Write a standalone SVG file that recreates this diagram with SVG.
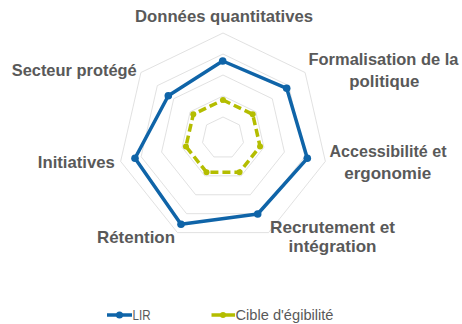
<svg xmlns="http://www.w3.org/2000/svg" width="462" height="324" viewBox="0 0 462 324">
<style>
.grid{fill:none;stroke:#d9d9d9;stroke-width:0.8}
.lbl{font-family:"Liberation Sans",Arial,sans-serif;font-weight:bold;font-size:16.3px;fill:#595959;text-anchor:middle}
.leg{font-family:"Liberation Sans",Arial,sans-serif;font-size:14px;fill:#595959}
.lir{fill:none;stroke:#0F64A8;stroke-width:3.5;stroke-linejoin:round}
.cib{fill:none;stroke:#B4BD00;stroke-width:3.5;stroke-dasharray:8,4}
.mb{fill:#0F64A8}
.mg{fill:#B4BD00}
</style>
<rect width="462" height="324" fill="#ffffff"/>
<g id="grid">
<polygon class="grid" points="223,33 305.09,72.53 325.37,161.36 268.56,232.6 177.44,232.6 120.63,161.36 140.91,72.53"/>
<polygon class="grid" points="223,54 288.67,85.63 304.89,156.69 259.45,213.68 186.55,213.68 141.11,156.69 157.33,85.63"/>
<polygon class="grid" points="223,75 272.26,98.72 284.42,152.02 250.33,194.76 195.67,194.76 161.58,152.02 173.74,98.72"/>
<polygon class="grid" points="223,96 255.84,111.81 263.95,147.35 241.22,175.84 204.78,175.84 182.05,147.35 190.16,111.81"/>
<polygon class="grid" points="223,117 239.42,124.91 243.47,142.67 232.11,156.92 213.89,156.92 202.53,142.67 206.58,124.91"/>
</g>
<g id="series-cible">
<polygon class="cib" points="223,100 252.71,114.31 260.05,146.46 239.49,172.24 206.51,172.24 185.95,146.46 193.29,114.31"/>
<circle class="mg" cx="223" cy="100" r="3"/>
<circle class="mg" cx="252.71" cy="114.31" r="3"/>
<circle class="mg" cx="260.05" cy="146.46" r="3"/>
<circle class="mg" cx="239.49" cy="172.24" r="3"/>
<circle class="mg" cx="206.51" cy="172.24" r="3"/>
<circle class="mg" cx="185.95" cy="146.46" r="3"/>
<circle class="mg" cx="193.29" cy="114.31" r="3"/>
</g>
<g id="series-lir">
<polygon class="lir" points="222.7,61 286.7,88.3 307.3,158.3 257.7,214 181,224.3 135,158.3 168.3,95.7"/>
<circle class="mb" cx="222.7" cy="61" r="3.8"/>
<circle class="mb" cx="286.7" cy="88.3" r="3.8"/>
<circle class="mb" cx="307.3" cy="158.3" r="3.8"/>
<circle class="mb" cx="257.7" cy="214" r="3.8"/>
<circle class="mb" cx="181" cy="224.3" r="3.8"/>
<circle class="mb" cx="135" cy="158.3" r="3.8"/>
<circle class="mb" cx="168.3" cy="95.7" r="3.8"/>
</g>
<g id="label-donnees"><text class="lbl" x="224" y="22" textLength="178" lengthAdjust="spacingAndGlyphs">Données quantitatives</text></g>
<g id="label-formalisation"><text class="lbl" x="383.5" y="65" textLength="150" lengthAdjust="spacingAndGlyphs">Formalisation de la</text><text class="lbl" x="384.3" y="87" textLength="70" lengthAdjust="spacingAndGlyphs">politique</text></g>
<g id="label-accessibilite"><text class="lbl" x="388" y="157" textLength="117" lengthAdjust="spacingAndGlyphs">Accessibilité et</text><text class="lbl" x="387.7" y="179" textLength="87" lengthAdjust="spacingAndGlyphs">ergonomie</text></g>
<g id="label-recrutement"><text class="lbl" x="332.5" y="233" textLength="125" lengthAdjust="spacingAndGlyphs">Recrutement et</text><text class="lbl" x="332.5" y="252" textLength="88" lengthAdjust="spacingAndGlyphs">intégration</text></g>
<g id="label-retention"><text class="lbl" x="136" y="243" textLength="78" lengthAdjust="spacingAndGlyphs">Rétention</text></g>
<g id="label-initiatives"><text class="lbl" x="76.3" y="168" textLength="77" lengthAdjust="spacingAndGlyphs">Initiatives</text></g>
<g id="label-secteur"><text class="lbl" x="74.2" y="76" textLength="125" lengthAdjust="spacingAndGlyphs">Secteur protégé</text></g>
<g id="legend">
<line x1="107" y1="315" x2="132" y2="315" stroke="#0F64A8" stroke-width="3.5"/>
<circle class="mb" cx="119.5" cy="315" r="3.5"/>
<text class="leg" x="132.5" y="320" textLength="18" lengthAdjust="spacingAndGlyphs">LIR</text>
<line x1="211.5" y1="315" x2="235" y2="315" stroke="#B4BD00" stroke-width="3.5"/>
<circle class="mg" cx="223" cy="315" r="3"/>
<text class="leg" x="235.5" y="320" textLength="98" lengthAdjust="spacingAndGlyphs">Cible d'égibilité</text>
</g>
</svg>
